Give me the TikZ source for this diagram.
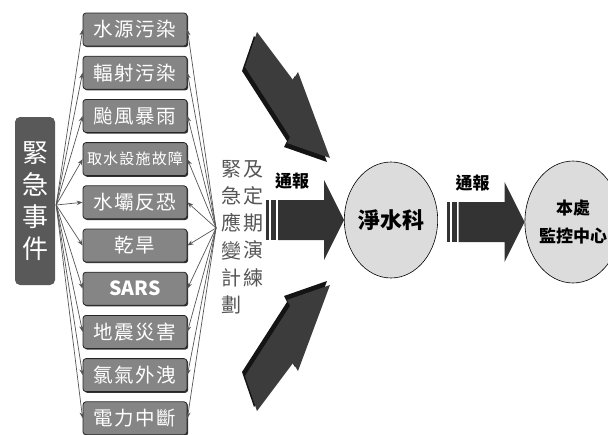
\documentclass[tikz,border=0pt]{standalone}
\usepackage{fontspec}
\newfontfamily\cjk{Noto Sans CJK TC}
\newfontfamily\cjkitem[LetterSpace=8]{Noto Sans CJK TC}
\usetikzlibrary{arrows.meta,shapes.geometric,shadows}
\definecolor{evgray}{HTML}{595959}
\definecolor{itemgray}{HTML}{858585}
\definecolor{fangray}{HTML}{555555}
\definecolor{ringgray}{HTML}{DCDCDC}
\definecolor{blockgray}{HTML}{333333}
\definecolor{bigfront}{HTML}{3C3C3C}
\definecolor{bigside}{HTML}{141414}

\begin{document}
\begin{tikzpicture}[x=1pt,y=-1pt]
\tikzset{
  evbox/.style={rounded corners=5pt,fill=evgray,text=white,minimum width=40pt,
    minimum height=168pt,inner sep=0pt,align=center,font=\cjk\fontsize{26}{32}\selectfont},
  itembox/.style={draw=black!85,line width=0.8pt,rounded corners=3pt,fill=itemgray,
    text=white,minimum width=104pt,minimum height=33pt,inner sep=0pt,
    drop shadow={shadow xshift=1.2pt,shadow yshift=-1.2pt,fill=black,opacity=0.8},
    font=\cjkitem\fontsize{19.5}{20}\selectfont},
  fanline/.style={draw=fangray,line width=0.7pt,-{Stealth[length=6pt,width=4.5pt]}},
  plantext/.style={text=fangray,align=center,inner sep=0pt,anchor=north,
    font=\cjk\fontsize{20}{27.3}\selectfont},
  ring/.style={ellipse,draw=black,line width=0.6pt,fill=ringgray,inner sep=0pt,align=center},
  notify/.pic={
    \fill[blockgray] (-78,-20) rectangle (-75,20);
    \fill[blockgray] (-73,-20) rectangle (-68,20);
    \fill[blockgray] (-66,-20) -- (-20,-20) -- (-20,-40) -- (0,0) -- (-20,40)
      -- (-20,20) -- (-66,20) -- cycle;
    \node[font=\cjk\bfseries\fontsize{17}{18}\selectfont] at (-52,-39) {通報};
  }
}
\useasboundingbox (0,0) rectangle (608,434);

% big block arrows
\fill[bigside,shift={(-3,4)}] (257,32) -- (293,80) -- (298,72) -- (330,158)
  -- (287,143) -- (290,137) -- (245,67) -- cycle;
\fill[bigfront] (257,32) -- (293,80) -- (298,72) -- (330,158)
  -- (287,143) -- (290,137) -- (245,67) -- cycle;
\fill[bigside,shift={(-3,-4)}] (257,411) -- (293,363) -- (298,371) -- (330,285)
  -- (287,300) -- (290,306) -- (245,376) -- cycle;
\fill[bigfront] (257,411) -- (293,363) -- (298,371) -- (330,285)
  -- (287,300) -- (290,306) -- (245,376) -- cycle;

% events
\node[evbox] (ev) at (35,201) {緊\\急\\事\\件};
\foreach \t [count=\i] in {水源污染,輻射污染,颱風暴雨,
    {\fontsize{15}{16}\selectfont 取水設施故障},水壩反恐,乾旱,
    {\cjk\bfseries SARS},地震災害,氯氣外洩,電力中斷}
  \node[itembox] (it\i) at (135,{29.5+43.2*(\i-1)}) {\t};

% plan
\node[plantext] (plan) at (231,160) {緊\\急\\應\\變\\計\\劃};
\node[plantext] (drill) at (253,160) {及\\定\\期\\演\\練};

\coordinate (lsrc) at ([shift={(1,4)}]ev.east);
\coordinate (rsrc) at ([shift={(-15,68)}]plan.north);
\foreach \i in {1,...,10} {
  \draw[fanline] (lsrc) -- (it\i.west);
  \draw[fanline] (rsrc) -- (it\i.east);
}

% offices
\node[ring,minimum width=92pt,minimum height=116pt,
  font=\cjk\bfseries\fontsize{22}{24}\selectfont] (jsk) at (391,220) {淨水科};
\node[ring,minimum width=96pt,minimum height=122pt,
  font=\cjk\bfseries\fontsize{17}{29}\selectfont] (ctr) at (573,222) {本處\\[-1pt]監控中心};

\pic at (jsk.west) {notify};
\pic at (ctr.west) {notify};
\end{tikzpicture}
\end{document}
